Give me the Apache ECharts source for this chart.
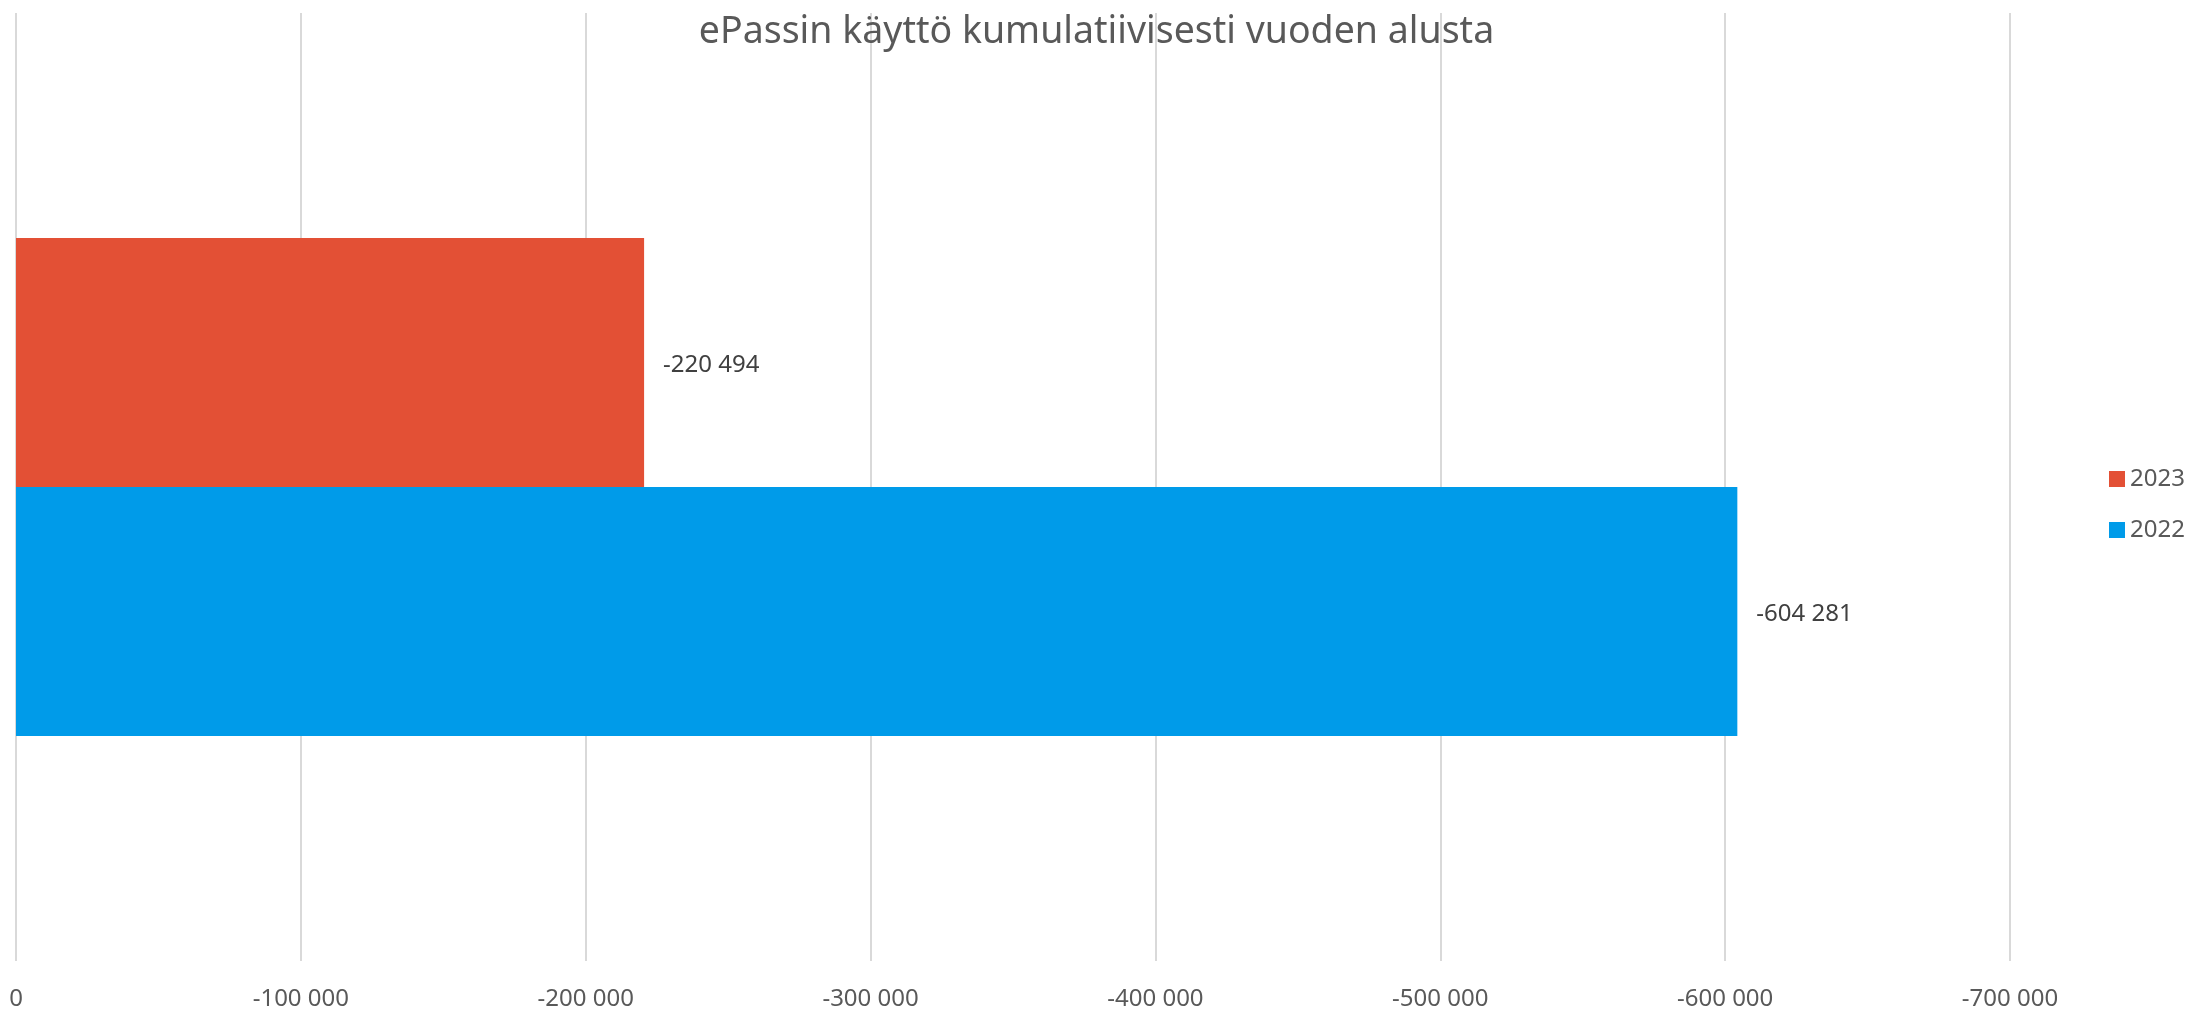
<!DOCTYPE html>
<html>
<head>
<meta charset="utf-8">
<script src="https://cdn.jsdelivr.net/npm/echarts@6/dist/echarts.min.js"></script>
<style>
  html, body { margin: 0; padding: 0; background: #fff; }
  #chart { width: 2193px; height: 1011px; }
</style>
</head>
<body>
<div id="chart"></div>
<script>
// data
var categories = [''];
var seriesNames = ['2023', '2022'];
var values2023 = [-220494];
var values2022 = [-604281];
var axisTicks = [0, -100000, -200000, -300000, -400000, -500000, -600000, -700000];

// 1234567 -> "1 234 567"
function fmt(v) {
  var s = Math.abs(Math.round(v)).toString().replace(/\B(?=(\d{3})+(?!\d))/g, ' ');
  return (v < 0 ? '-' : '') + s;
}

var chartDom = document.getElementById('chart');
var myChart = echarts.init(chartDom);
var option;

var font = 'Noto Sans';

option = {
  animation: false,
  title: {
    text: 'ePassin käyttö kumulatiivisesti vuoden alusta',
    left: 'center',
    top: 8,
    textStyle: { fontFamily: font, fontSize: 37.5, fontWeight: 'normal', color: '#595959' }
  },
  legend: {
    orient: 'vertical',
    left: 2109,
    top: 467,
    itemGap: 27,
    itemWidth: 16,
    itemHeight: 16,
    icon: 'rect',
    padding: 0,
    textStyle: { fontFamily: font, fontSize: 24, color: '#595959' },
    data: seriesNames
  },
  grid: {
    left: 16,
    right: 183,
    top: 13,
    bottom: 50
  },
  xAxis: {
    type: 'value',
    inverse: true,
    min: axisTicks[axisTicks.length - 1],
    max: axisTicks[0],
    interval: 100000,
    axisLine: { show: false },
    axisTick: { show: false },
    splitLine: { lineStyle: { color: '#d9d9d9', width: 2 } },
    axisLabel: {
      margin: 26,
      fontFamily: font,
      fontSize: 24,
      color: '#595959',
      formatter: fmt
    }
  },
  yAxis: {
    type: 'category',
    data: categories,
    axisLine: { show: false },
    axisTick: { show: false },
    axisLabel: { show: false }
  },
  series: [
    {
      name: seriesNames[0],
      type: 'bar',
      data: values2023,
      barWidth: 249,
      barGap: '0%',
      itemStyle: { color: '#E35035' },
      label: {
        show: true,
        position: 'right',
        distance: 19,
        offset: [0, 3],
        fontFamily: font,
        fontSize: 24,
        color: '#404040',
        formatter: function (p) { return fmt(p.value); }
      }
    },
    {
      name: seriesNames[1],
      type: 'bar',
      data: values2022,
      barWidth: 249,
      barGap: '0%',
      itemStyle: { color: '#009BE9' },
      label: {
        show: true,
        position: 'right',
        distance: 19,
        offset: [0, 3],
        fontFamily: font,
        fontSize: 24,
        color: '#404040',
        formatter: function (p) { return fmt(p.value); }
      }
    }
  ]
};

option && myChart.setOption(option);
</script>
</body>
</html>
